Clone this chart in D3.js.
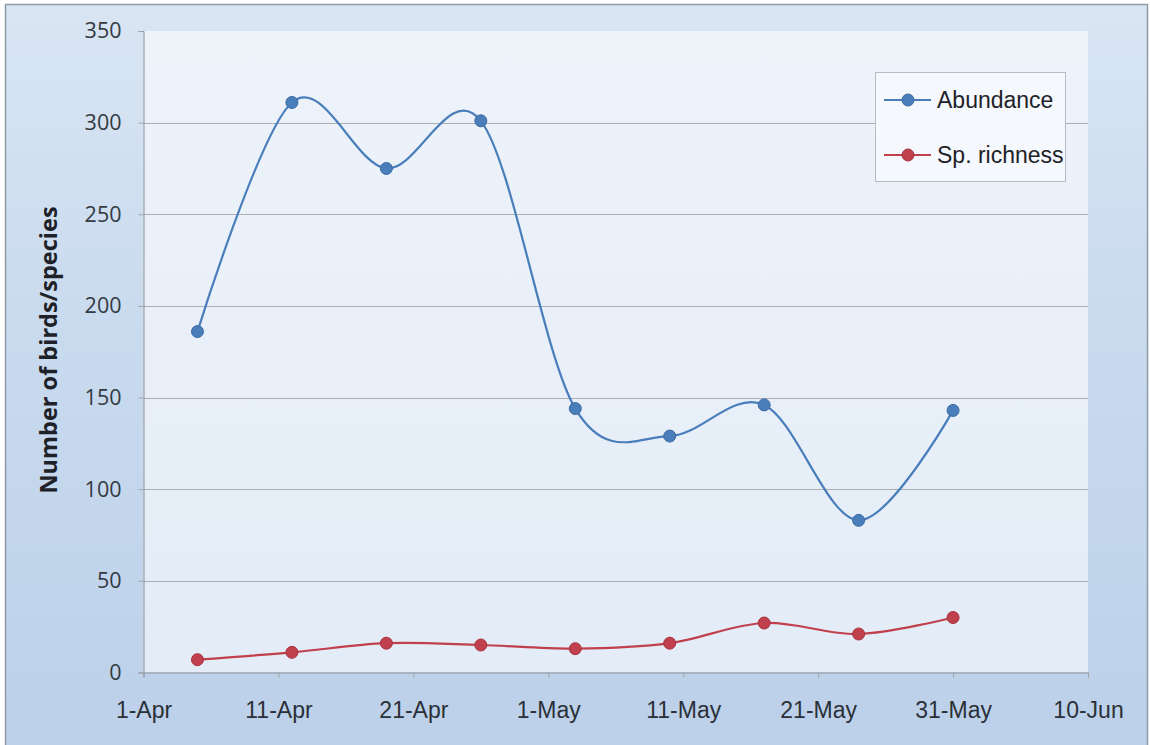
<!DOCTYPE html>
<html>
<head>
<meta charset="utf-8">
<script src="https://cdn.jsdelivr.net/npm/d3@7"></script>
<style>
  html, body { margin: 0; padding: 0; background: #ffffff; }
  svg { display: block; }
</style>
</head>
<body>
<svg id="chart" width="1150" height="745"></svg>
<script>
// Survey dates (weekly counts) and the two series
const surveyDates = ["2009-04-05", "2009-04-12", "2009-04-19", "2009-04-26", "2009-05-03",
                     "2009-05-10", "2009-05-17", "2009-05-24", "2009-05-31"];
const abundance = [186, 311, 275, 301, 144, 129, 146, 83, 143];
const richness  = [7, 11, 16, 15, 13, 16, 27, 21, 30];
const seriesNames = ["Abundance", "Sp. richness"];
const xTickDates = ["2009-04-01", "2009-04-11", "2009-04-21", "2009-05-01", "2009-05-11",
                    "2009-05-21", "2009-05-31", "2009-06-10"];
const yTicks = [0, 50, 100, 150, 200, 250, 300, 350];
const yTitle = "Number of birds/species";

const parse = d3.timeParse("%Y-%m-%d");
const svg = d3.select("#chart");

const plot = { left: 143.5, right: 1088, top: 31, bottom: 672.5 };

const x = d3.scaleTime()
  .domain([parse(xTickDates[0]), parse(xTickDates[xTickDates.length - 1])])
  .range([plot.left, plot.right]);
const y = d3.scaleLinear().domain([0, 350]).range([plot.bottom, plot.top]);

// Gradients for the chart area and plot area
const defs = svg.append("defs");
const outerGrad = defs.append("linearGradient").attr("id", "outerGrad")
  .attr("x1", 0).attr("y1", 0).attr("x2", 0).attr("y2", 1);
outerGrad.append("stop").attr("offset", "0%").attr("stop-color", "#d9e5f3");
outerGrad.append("stop").attr("offset", "45%").attr("stop-color", "#c8daee");
outerGrad.append("stop").attr("offset", "100%").attr("stop-color", "#bbd0e9");

const plotGrad = defs.append("linearGradient").attr("id", "plotGrad")
  .attr("x1", 0).attr("y1", 0).attr("x2", 0).attr("y2", 1);
plotGrad.append("stop").attr("offset", "0%").attr("stop-color", "#eef3fa");
plotGrad.append("stop").attr("offset", "100%").attr("stop-color", "#e3ecf7");

// Chart area
svg.append("rect")
  .attr("x", 5.5).attr("y", 4.5).attr("width", 1142).attr("height", 760)
  .attr("fill", "url(#outerGrad)")
  .attr("stroke", "#8e9aa6").attr("stroke-width", 1.5);

// Plot area
svg.append("rect")
  .attr("x", plot.left).attr("y", plot.top)
  .attr("width", plot.right - plot.left).attr("height", plot.bottom - plot.top)
  .attr("fill", "url(#plotGrad)");

// Horizontal gridlines
svg.append("g")
  .selectAll("line")
  .data(yTicks.filter(v => v > 0 && v < 350))
  .join("line")
  .attr("x1", plot.left).attr("x2", plot.right)
  .attr("y1", d => Math.round(y(d)) + 0.5).attr("y2", d => Math.round(y(d)) + 0.5)
  .attr("stroke", "#abafb4").attr("stroke-width", 1);

// Y axis
const yAxis = svg.append("g")
  .attr("transform", `translate(${plot.left},0)`)
  .call(d3.axisLeft(y).tickValues(yTicks).tickSize(5).tickPadding(17).tickFormat(d3.format("d")));
yAxis.select(".domain").attr("stroke", "#8a8f95");
yAxis.selectAll(".tick line").attr("stroke", "#a0a5aa");
yAxis.selectAll(".tick text")
  .attr("font-family", "'Open Sans', sans-serif")
  .attr("font-size", 21.5).attr("fill", "#333a42");

// X axis
const xAxis = svg.append("g")
  .attr("transform", `translate(0,${plot.bottom})`)
  .call(d3.axisBottom(x).tickValues(xTickDates.map(parse)).tickSize(5).tickPadding(24)
    .tickFormat(d3.timeFormat("%-d-%b")));
xAxis.select(".domain").attr("stroke", "#8a8f95");
xAxis.selectAll(".tick line").attr("stroke", "#a0a5aa");
xAxis.selectAll(".tick text")
  .attr("font-family", "'Liberation Sans', Arial, sans-serif")
  .attr("font-size", 23).attr("fill", "#2b3038");

// Y axis title
svg.append("text")
  .attr("transform", `translate(57,350) rotate(-90)`)
  .attr("text-anchor", "middle")
  .attr("font-family", "'Open Sans', sans-serif")
  .attr("font-weight", "bold")
  .attr("font-size", 23.5)
  .attr("fill", "#1e2228")
  .text(yTitle);

// Series
const colors = ["#4a7ebb", "#c0404d"];
const markerStroke = ["#3b6aa3", "#a8323f"];
const series = [abundance, richness].map((vals, i) => ({
  name: seriesNames[i],
  color: colors[i],
  points: vals.map((v, j) => ({ date: parse(surveyDates[j]), value: v }))
}));

const line = d3.line()
  .x(d => x(d.date)).y(d => y(d.value))
  .curve(d3.curveCardinal.tension(0));

const gSeries = svg.append("g");
series.forEach((s, i) => {
  gSeries.append("path")
    .datum(s.points)
    .attr("d", line)
    .attr("fill", "none")
    .attr("stroke", s.color)
    .attr("stroke-width", 2.2);
  gSeries.append("g")
    .selectAll("circle")
    .data(s.points)
    .join("circle")
    .attr("cx", d => x(d.date)).attr("cy", d => y(d.value))
    .attr("r", 6)
    .attr("fill", s.color)
    .attr("stroke", markerStroke[i]).attr("stroke-width", 1);
});

// Legend
const legend = svg.append("g");
legend.append("rect")
  .attr("x", 875.5).attr("y", 72.5).attr("width", 190).attr("height", 109)
  .attr("fill", "#f5f8fc").attr("stroke", "#b5bcc4").attr("stroke-width", 1);
series.forEach((s, i) => {
  const cy = 100 + i * 55;
  legend.append("line")
    .attr("x1", 884).attr("x2", 931).attr("y1", cy).attr("y2", cy)
    .attr("stroke", s.color).attr("stroke-width", 2.2);
  legend.append("circle")
    .attr("cx", 908).attr("cy", cy).attr("r", 6)
    .attr("fill", s.color).attr("stroke", markerStroke[i]).attr("stroke-width", 1);
  legend.append("text")
    .attr("x", 937).attr("y", cy)
    .attr("dy", "0.35em")
    .attr("font-family", "'Liberation Sans', Arial, sans-serif")
    .attr("font-size", 23).attr("fill", "#1e2228")
    .text(s.name);
});
</script>
</body>
</html>
